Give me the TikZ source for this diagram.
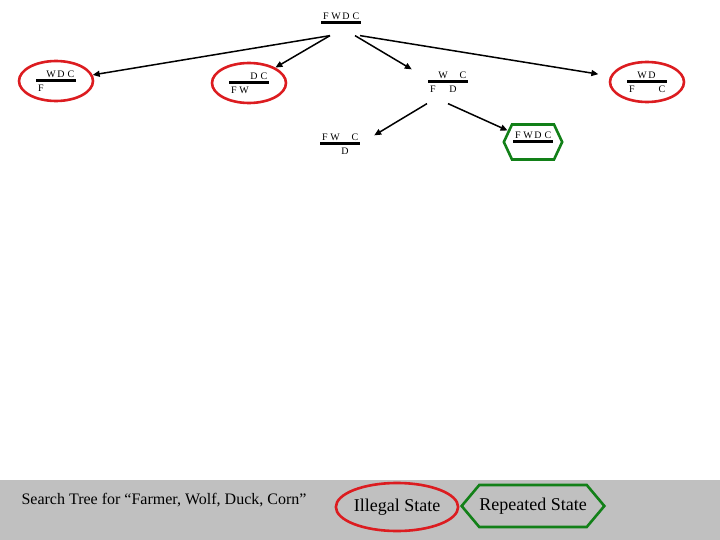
\documentclass[tikz,border=0pt]{standalone}
\usepackage{fontspec}
\setmainfont{Liberation Serif}
\usetikzlibrary{shapes.geometric,shapes.symbols,arrows.meta,positioning}

\definecolor{illegalred}{RGB}{220,28,32}
\definecolor{repeatgreen}{RGB}{18,128,24}
\definecolor{panelgray}{RGB}{192,192,192}

% one bank of the river: slots for F, W, D, C
\newcommand{\side}[4]{\makebox[10pt]{#1}\makebox[10pt]{#2}\makebox[10pt]{#3}\makebox[10pt]{#4}}
\newcommand{\farmstate}[2]{\vbox{\hbox{\vphantom{F}#1}\kern2pt\hrule height 3pt width 40pt\kern2.5pt\hbox{\vphantom{F}#2}}}

\begin{document}
\begin{tikzpicture}[
  x=1pt, y=-1pt,
  state/.style={inner sep=2pt, font=\fontsize{10}{10}\selectfont},
  illegal/.style={state, ellipse, draw=illegalred, line width=2.6pt, inner sep=1pt, minimum width=74pt, minimum height=40pt},
  repeated/.style={state, signal, signal to=west and east, signal pointer angle=130, draw=repeatgreen, line width=2.6pt, inner xsep=1pt, minimum width=58pt, minimum height=35pt},
  key/.style={font=\fontsize{18}{18}\selectfont, line width=2.6pt, inner sep=0pt},
  arr/.style={-{Triangle[length=7pt,width=6pt]}, line width=1.5pt}
]
  \useasboundingbox (0,0) rectangle (720,540);
  \fill[panelgray] (0,480) rectangle (720,540);

  % search tree
  \node[state] (root) at (341,23) {\farmstate{\side{F}{W}{D}{C}}{\side{}{}{}{}}};
  \node[illegal] (wdc) at (56,81) {\farmstate{\side{}{W}{D}{C}}{\side{F}{}{}{}}};
  \node[illegal] (dc) at (249,83) {\farmstate{\side{}{}{D}{C}}{\side{F}{W}{}{}}};
  \node[state] (wc) at (448,82) {\farmstate{\side{}{W}{}{C}}{\side{F}{}{D}{}}};
  \node[illegal] (wd) at (647,82) {\farmstate{\side{}{W}{D}{}}{\side{F}{}{}{C}}};
  \node[state] (fwc) at (340,144) {\farmstate{\side{F}{W}{}{C}}{\side{}{}{D}{}}};
  \node[repeated] (fwdc) at (533,142) {\farmstate{\side{F}{W}{D}{C}}{\side{}{}{}{}}};

  \draw[arr] ([xshift=-11pt]root.south) -- (wdc);
  \draw[arr] ([xshift=-11pt]root.south) -- (dc);
  \draw[arr] ([xshift=14pt]root.south) -- ([xshift=-14pt]wc.north west);
  \draw[arr, shorten >=12pt] ([xshift=19pt]root.south) -- (wd);
  \draw[arr] ([xshift=-21pt,yshift=-9pt]wc.south) -- ([xshift=12pt,yshift=-4pt]fwc.north east);
  \draw[arr] ([yshift=-9pt]wc.south) -- (fwdc);

  % legend
  \node[anchor=west, font=\fontsize{16}{16}\selectfont] (title) at (18,500) {Search Tree for “Farmer, Wolf, Duck, Corn”};
  \node[key, ellipse, draw=illegalred, minimum width=120pt, minimum height=48pt] (illegalkey) at (397,507) {Illegal State};
  \node[key, signal, signal to=west and east, signal pointer angle=100, draw=repeatgreen, minimum width=140pt, minimum height=42pt] (repeatkey) at (533,506) {Repeated State};
\end{tikzpicture}
\end{document}
